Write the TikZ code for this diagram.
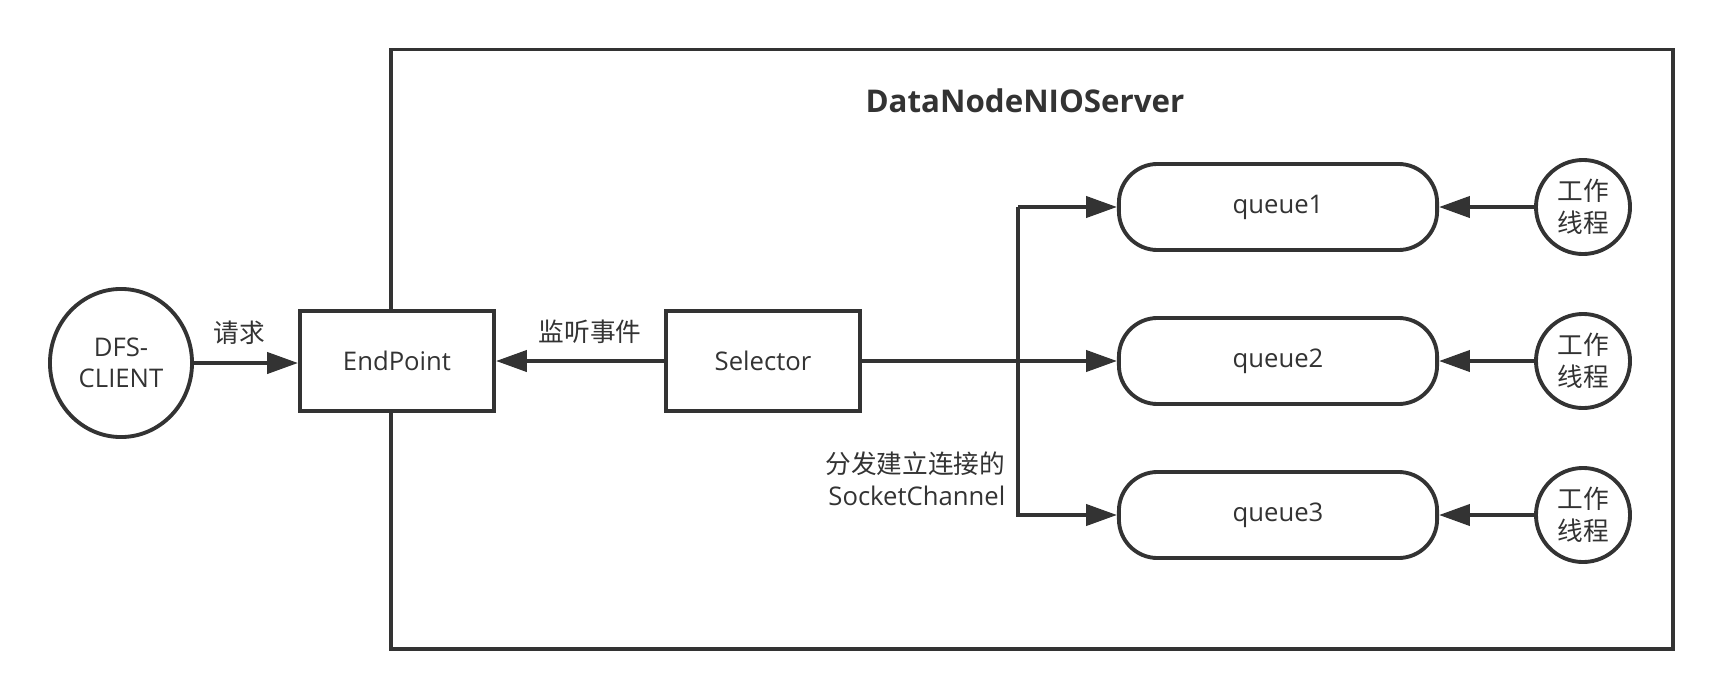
\documentclass[tikz,border=0pt]{standalone}
\usepackage{fontspec}
\usepackage{tikz}
\usetikzlibrary{arrows.meta, shapes.geometric}
\setmainfont{Open Sans}
\newfontfamily\cjk{Noto Sans CJK SC}
\definecolor{lineColor}{RGB}{51,51,51}
\tikzstyle{diagram} = [x = 0.01cm, y = -0.01cm, every node/.style={font=\fontsize{7.3pt}{9pt}\selectfont, text=lineColor}]
\tikzstyle{lineStyle} = [color=lineColor, line width=1.1pt]
\tikzstyle{arrowStyle} = [lineStyle, -{Triangle[length=8.8pt, width=6pt]}]
\tikzstyle{boxStyle} = [lineStyle, draw, fill=white, rectangle, minimum width=1.94cm, minimum height=1cm]
\tikzstyle{queueStyle} = [lineStyle, draw, fill=white, rectangle, rounded corners=11pt, minimum width=3.18cm, minimum height=0.86cm]
\tikzstyle{workerStyle} = [lineStyle, draw, fill=white, circle, minimum size=0.94cm, inner sep=0pt, align=center]
\tikzstyle{clientStyle} = [lineStyle, draw, fill=white, ellipse, minimum width=1.42cm, minimum height=1.48cm, inner sep=0pt, align=center]
\begin{document}
\begin{tikzpicture}[diagram]
  \useasboundingbox (0,0) rectangle (1724,700);
  % server frame
  \draw [lineStyle] (391,49.5) rectangle (1673,649);
  \node [font=\fontsize{8.9pt}{10pt}\selectfont\bfseries] (serverTitle) at (1025,101) {DataNodeNIOServer};

  \node [clientStyle] (client) at (121,363) {DFS-\\CLIENT};
  \node [boxStyle] (endPoint) at (397,361) {EndPoint};
  \node [boxStyle] (selector) at (763,361) {Selector};

  \draw [arrowStyle] (client) -- (client -| endPoint.west);
  \node (requestLabel) at (239,333) {\cjk 请求};
  \draw [arrowStyle] (selector) -- (endPoint);
  \node (listenLabel) at (590,332) {\cjk 监听事件};

  \foreach \idx/\ypos in {1/207, 2/361, 3/515} {
    \node [queueStyle] (queue\idx) at (1278,\ypos) {queue\idx};
    \node [workerStyle] (worker\idx) at (1583,\ypos) {\cjk 工作\\\cjk 线程};
    \draw [arrowStyle] (worker\idx) -- (queue\idx);
  }

  % dispatch branch
  \coordinate (branch) at (1018,361);
  \draw [arrowStyle] (selector) -- (queue2);
  \draw [arrowStyle] (branch |- queue1) -- (queue1);
  \draw [arrowStyle] (branch |- queue1) -- (branch |- queue3) -- (queue3);
  \node [anchor=east, align=right, inner sep=0pt] (dispatchLabel) at (1006,479) {\cjk 分发建立连接的\\SocketChannel};
\end{tikzpicture}
\end{document}
